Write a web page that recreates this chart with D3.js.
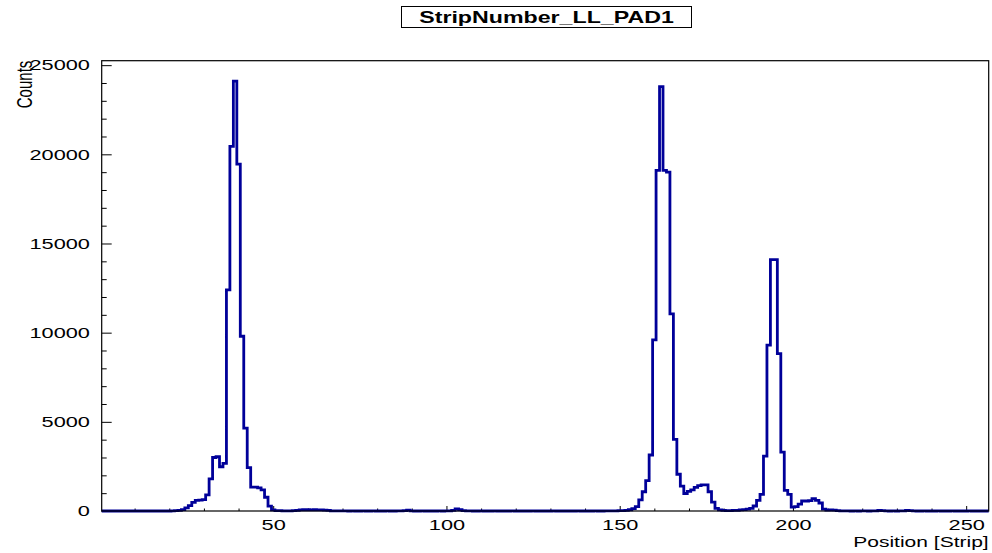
<!DOCTYPE html>
<html>
<head>
<meta charset="utf-8">
<script src="https://cdn.jsdelivr.net/npm/d3@7"></script>
<style>
  body { margin: 0; background: #ffffff; }
  text { font-family: "Liberation Sans", Arial, sans-serif; }
</style>
</head>
<body>
<div id="chart"></div>
<script>
// Part 1: data (one value per strip, strips 1..256)
// Part 2: scales, frame and axes
// Part 3: the histogram outline
// Part 4: title box and axis titles

var titleText = "StripNumber_LL_PAD1";
var xTitle = "Position [Strip]";
var yTitle = "Counts";

var xTickValues = [50, 100, 150, 200, 250];
var yTickValues = [0, 5000, 10000, 15000, 20000, 25000];

var strips = d3.range(1, 257);
var counts = [
  0, 0, 0, 0, 0, 0, 0, 0, 0, 0, 0, 0, 0, 0, 0, 0,
  0, 0, 0, 0, 10, 20, 40, 80, 180, 300, 480, 600, 610, 640, 900, 1800,
  3000, 3050, 2480, 2670, 12400, 20450, 24100, 19450, 9800, 4650, 2430, 1340, 1340, 1300, 1180, 770,
  270, 60, 20, 20, 10, 10, 10, 20, 40, 60, 70, 70, 60, 70, 60, 60,
  50, 40, 10, 10, 5, 5, 5, 0, 5, 0, 0, 5, 0, 0, 5, 0,
  0, 0, 5, 0, 0, 5, 10, 20, 50, 10, 0, 0, 5, 0, 0, 0,
  0, 5, 0, 5, 10, 30, 120, 70, 20, 10, 5, 0, 0, 5, 0, 0,
  0, 5, 0, 0, 0, 0, 5, 0, 0, 0, 0, 0, 5, 0, 0, 0,
  0, 0, 5, 0, 0, 0, 0, 0, 0, 5, 0, 0, 0, 0, 5, 0,
  0, 5, 5, 10, 10, 20, 20, 40, 70, 130, 250, 620, 1080, 1700, 3140, 9600,
  19100, 23800, 19100, 19000, 11050, 4020, 2060, 1400, 980, 1100, 1180, 1330, 1420, 1460, 1470, 1080,
  500, 150, 60, 30, 20, 20, 30, 40, 60, 80, 100, 150, 280, 600, 930, 3080,
  9300, 14100, 14100, 8820, 3300, 1160, 930, 220, 250, 380, 560, 560, 580, 690, 600, 450,
  100, 50, 60, 50, 20, 10, 5, 5, 0, 5, 0, 10, 5, 0, 5, 10,
  30, 20, 5, 0, 5, 0, 5, 10, 40, 20, 5, 0, 0, 5, 0, 0,
  0, 5, 0, 0, 0, 5, 0, 0, 0, 0, 5, 0, 0, 0, 0, 0
];

var width = 992;
var height = 553;

// plot frame
var frame = { left: 101.7, right: 988.7, top: 60.7, bottom: 511 };
var stretch = 1.45; // the picture's text is wider than it is tall

var svg = d3
  .select("#chart")
  .append("svg")
  .attr("width", width)
  .attr("height", height)
  .style("background", "#ffffff");

//===============================================
// Part 2: scales
var x = d3.scaleLinear().domain([0.5, 256.5]).range([frame.left, frame.right]);
var y = d3.scaleLinear().domain([0, 25250]).range([frame.bottom, frame.top]);

// x axis, major and minor ticks pointing up into the frame
var xMinor = d3.range(10, 257, 10).filter(function (v) { return v % 50 !== 0; });

svg.append("g")
  .attr("transform", "translate(0," + frame.bottom + ")")
  .call(d3.axisBottom(x).tickValues(xMinor).tickSize(-2.5).tickFormat(""))
  .call(function (g) { g.select(".domain").remove(); });

var xAxis = svg.append("g")
  .attr("transform", "translate(0," + frame.bottom + ")")
  .call(d3.axisBottom(x).tickValues(xTickValues).tickSize(-5).tickPadding(8.5).tickFormat(d3.format("d")));
xAxis.select(".domain").remove();
xAxis.selectAll("text")
  .attr("font-family", "Liberation Sans, Arial, sans-serif")
  .attr("font-size", 15)
  .attr("fill", "#000")
  .attr("transform", "scale(" + stretch + ",1)");

// y axis, ticks pointing right into the frame
var yMinor = d3.range(0, 25001, 1000).filter(function (v) { return v % 5000 !== 0; });

svg.append("g")
  .attr("transform", "translate(" + frame.left + ",0)")
  .call(d3.axisLeft(y).tickValues(yMinor).tickSize(-5).tickFormat(""))
  .call(function (g) { g.select(".domain").remove(); });

var yAxis = svg.append("g")
  .attr("transform", "translate(" + frame.left + ",0)")
  .call(d3.axisLeft(y).tickValues(yTickValues).tickSize(-10).tickPadding(8.1).tickFormat(d3.format("d")));
yAxis.select(".domain").remove();
yAxis.selectAll("text")
  .attr("font-family", "Liberation Sans, Arial, sans-serif")
  .attr("font-size", 15)
  .attr("fill", "#000")
  .attr("transform", "scale(" + stretch + ",1)");

svg.selectAll(".tick line").attr("stroke", "#000").attr("stroke-width", 1);

//===============================================
// Part 3: histogram outline drawn as steps
var steps = [];
counts.forEach(function (c, i) {
  steps.push([strips[i] - 0.5, c]);
  steps.push([strips[i] + 0.5, c]);
});

var line = d3.line()
  .x(function (d) { return x(d[0]); })
  .y(function (d) { return y(d[1]); });

svg.append("path")
  .datum(steps)
  .attr("d", line)
  .attr("fill", "none")
  .attr("stroke", "#000099")
  .attr("stroke-width", 2.8)
  .attr("stroke-linejoin", "miter");

// frame on top
svg.append("rect")
  .attr("x", frame.left)
  .attr("y", frame.top)
  .attr("width", frame.right - frame.left)
  .attr("height", frame.bottom - frame.top)
  .attr("fill", "none")
  .attr("stroke", "#000")
  .attr("stroke-width", 1.2);

//===============================================
// Part 4: title box
svg.append("rect")
  .attr("x", 401.5)
  .attr("y", 6.5)
  .attr("width", 290)
  .attr("height", 21)
  .attr("fill", "#fff")
  .attr("stroke", "#000")
  .attr("stroke-width", 1);

svg.append("g")
  .attr("transform", "translate(546.5,22.5) scale(" + stretch + ",1)")
  .append("text")
  .attr("text-anchor", "middle")
  .attr("font-size", 16)
  .attr("font-weight", "bold")
  .text(titleText);

// axis titles
svg.append("g")
  .attr("transform", "translate(" + frame.right + ",546.5) scale(" + stretch + ",1)")
  .append("text")
  .attr("text-anchor", "end")
  .attr("font-size", 14.5)
  .text(xTitle);

svg.append("g")
  .attr("transform", "translate(31.5," + frame.top + ") scale(" + stretch + ",1) rotate(-90)")
  .append("text")
  .attr("text-anchor", "end")
  .attr("font-size", 15)
  .text(yTitle);
</script>
</body>
</html>
